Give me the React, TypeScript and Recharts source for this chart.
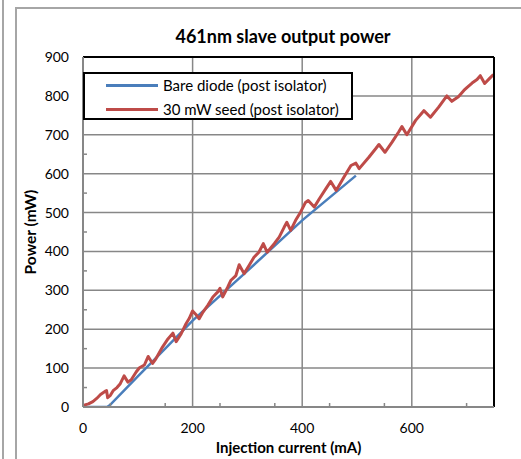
import React from 'react';
import { LineChart, Line, XAxis, YAxis, CartesianGrid, ReferenceLine, Legend, Label } from 'recharts';

const titleText = '461nm slave output power';
const xLabelText = 'Injection current (mA)';
const yLabelText = 'Power (mW)';
const seriesNames = ['Bare diode (post isolator)', '30 mW seed (post isolator)'];

const bareCurrent = [0, 44, 50, 100, 150, 200, 300, 400, 498];
const barePower = [0, 0, 6, 79, 150, 222, 350, 480, 595];

const seedCurrent = [
  0, 5, 10, 18, 25, 32, 40, 43, 45, 50, 55, 62, 68, 75, 82, 88, 97, 103, 112, 119,
  127, 133, 145, 155, 164, 170, 179, 188, 194, 200, 206, 212, 219, 228, 237, 246, 250, 255, 264, 270,
  279, 285, 294, 303, 312, 321, 329, 336, 349, 358, 367, 372, 379, 388, 397, 406, 411, 422, 431, 443,
  452, 462, 476, 489, 498, 504, 522, 534, 540, 551, 564, 576, 582, 591, 607, 622, 634, 649, 664, 673,
  685, 695, 701, 710, 719, 725, 733, 742, 749,
];
const seedPower = [
  3, 6, 8, 14, 22, 32, 40, 42, 24, 30, 42, 50, 60, 80, 64, 70, 90, 101, 108, 130,
  112, 124, 154, 175, 190, 168, 188, 214, 228, 247, 238, 227, 244, 262, 283, 296, 305, 283, 308, 326,
  338, 366, 343, 364, 385, 398, 420, 398, 420, 437, 462, 475, 454, 480, 501, 526, 531, 514, 535, 561,
  580, 557, 591, 621, 627, 613, 643, 664, 675, 655, 681, 707, 721, 700, 737, 762, 745, 771, 800, 786,
  798, 814, 822, 833, 842, 852, 832, 845, 855,
];

const xTicks = [0, 200, 400, 600];
const yTicks = [0, 100, 200, 300, 400, 500, 600, 700, 800, 900];
const xMinorTicks = [50, 100, 150, 250, 300, 350, 450, 500, 550, 650, 700];
const yMinorTicks = [50, 150, 250, 350, 450, 550, 650, 750, 850];
const xDomain = [0, 750];
const yDomain = [0, 900];

const bareData = bareCurrent.map((x, i) => ({ x, y: barePower[i] }));
const seedData = seedCurrent.map((x, i) => ({ x, y: seedPower[i] }));

const FONT = 'Lato, "Open Sans", sans-serif';
const BLUE = '#4A7EBB';
const RED = '#BE4B48';
const GRID = '#878787';

const EmptyTick = () => <g />;

const LegendBox = () => (
  <div
    style={{
      position: 'absolute',
      left: 83,
      top: 72,
      width: 270,
      height: 48,
      boxSizing: 'border-box',
      border: '2px solid #000',
      background: '#fff',
      fontFamily: FONT,
      fontSize: 15,
      color: '#000',
    }}
  >
    {seriesNames.map((name, i) => (
      <div key={name} style={{ position: 'absolute', left: 0, top: i === 0 ? 2 : 26, height: 20, width: 266 }}>
        <div
          style={{
            position: 'absolute',
            left: 21,
            top: 8,
            width: 52,
            height: 3,
            background: i === 0 ? BLUE : RED,
          }}
        />
        <span style={{ position: 'absolute', left: 78, top: 0, lineHeight: '19px', whiteSpace: 'nowrap' }}>{name}</span>
      </div>
    ))}
  </div>
);

const XLabelContent = (props: any) => {
  const vb = props.viewBox || {};
  const cx = (vb.x || 0) + (vb.width || 0) / 2;
  return (
    <text x={cx} y={453} textAnchor="middle" fontFamily={FONT} fontWeight="bold" fontSize={15} fill="#000">
      {xLabelText}
    </text>
  );
};

const YLabelContent = (props: any) => {
  const vb = props.viewBox || {};
  const cy = (vb.y || 0) + (vb.height || 0) / 2;
  const cx = 30;
  return (
    <text
      x={cx}
      y={cy}
      transform={`rotate(-90 ${cx} ${cy})`}
      textAnchor="middle"
      dominantBaseline="central"
      fontFamily={FONT}
      fontWeight="bold"
      fontSize={15.5}
      fill="#000"
    >
      {yLabelText}
    </text>
  );
};

export default function App() {
  return (
    <div style={{ position: 'absolute', left: 0, top: 0, width: 521, height: 459, background: '#fff', overflow: 'hidden' }}>
      <div style={{ position: 'absolute', left: 2, top: 0, width: 1.5, height: 459, background: '#a6a6a6' }} />
      <div style={{ position: 'absolute', left: 15, top: 7, width: 1.5, height: 452, background: '#a6a6a6' }} />
      <div style={{ position: 'absolute', left: 15, top: 7, width: 506, height: 1.5, background: '#a6a6a6' }} />
      <div
        style={{
          position: 'absolute',
          left: 83,
          width: 400,
          top: 26,
          textAlign: 'center',
          fontFamily: FONT,
          fontWeight: 'bold',
          fontSize: 18,
          lineHeight: '20px',
          color: '#000',
          whiteSpace: 'nowrap',
        }}
      >
        {titleText}
      </div>
      <div style={{ position: 'absolute', left: 0, top: 0 }}>
        <LineChart width={521} height={459} margin={{ top: 57, right: 27, left: 0, bottom: 0 }}>
          <CartesianGrid
            stroke={GRID}
            strokeWidth={1.5}
            horizontalValues={yTicks}
            verticalValues={xTicks}
          />
          <XAxis
            xAxisId="minor"
            dataKey="x"
            type="number"
            domain={xDomain}
            ticks={xMinorTicks}
            height={1}
            mirror
            axisLine={false}
            tick={EmptyTick}
            tickSize={4}
            tickLine={{ stroke: GRID, strokeWidth: 1.5 }}
            allowDataOverflow
          />
          <YAxis
            yAxisId="minor"
            dataKey="y"
            type="number"
            domain={yDomain}
            ticks={yMinorTicks}
            width={1}
            mirror
            axisLine={false}
            tick={EmptyTick}
            tickSize={4}
            tickLine={{ stroke: GRID, strokeWidth: 1.5 }}
            allowDataOverflow
          />
          <XAxis
            dataKey="x"
            type="number"
            domain={xDomain}
            ticks={xTicks}
            height={52}
            axisLine={{ stroke: GRID, strokeWidth: 2 }}
            tickLine={false}
            tickSize={0}
            tickMargin={16}
            tick={{ fontFamily: FONT, fontSize: 14, fill: '#000' }}
            allowDataOverflow
          >
            <Label content={XLabelContent} />
          </XAxis>
          <YAxis
            dataKey="y"
            type="number"
            domain={yDomain}
            ticks={yTicks}
            width={83}
            axisLine={{ stroke: GRID, strokeWidth: 2 }}
            tickLine={false}
            tickSize={0}
            tickMargin={14}
            tick={{ fontFamily: FONT, fontSize: 14, fill: '#000' }}
            allowDataOverflow
          >
            <Label content={YLabelContent} />
          </YAxis>
          <Line
            data={bareData}
            dataKey="y"
            name={seriesNames[0]}
            type="linear"
            stroke={BLUE}
            strokeWidth={2.5}
            dot={false}
            isAnimationActive={false}
          />
          <Line
            data={seedData}
            dataKey="y"
            name={seriesNames[1]}
            type="linear"
            stroke={RED}
            strokeWidth={3}
            strokeLinejoin="round"
            dot={false}
            isAnimationActive={false}
          />
          <ReferenceLine y={900} stroke="#000" strokeWidth={2} />
          <ReferenceLine x={750} stroke="#000" strokeWidth={2} />
          <Legend
            layout="vertical"
            align="center"
            verticalAlign="middle"
            wrapperStyle={{ position: 'absolute', left: 0, top: 0, width: 0, height: 0 }}
            content={() => <LegendBox />}
          />
        </LineChart>
      </div>
    </div>
  );
}
